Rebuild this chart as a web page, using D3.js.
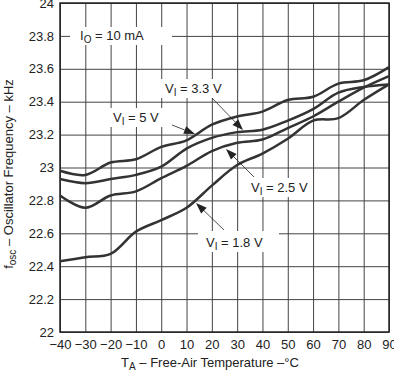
<!DOCTYPE html>
<html>
<head>
<meta charset="utf-8">
<script src="https://cdn.jsdelivr.net/npm/d3@7"></script>
<style>
  body { margin: 0; background: #fff; }
  text { font-family: Arial, "Liberation Sans", sans-serif; fill: #222; }
</style>
</head>
<body>
<div id="chart"></div>
<script>
// temperatures (°C) and oscillator frequency (kHz) per input voltage
var temps = [-40, -30, -20, -10, 0, 10, 20, 30, 40, 50, 60, 70, 80, 90];
var fV5  = [22.98, 22.955, 23.03, 23.05, 23.125, 23.165, 23.26, 23.31, 23.34, 23.41, 23.43, 23.51, 23.53, 23.61];
var fV33 = [22.93, 22.905, 22.93, 22.955, 23.005, 23.115, 23.18, 23.215, 23.23, 23.285, 23.355, 23.455, 23.49, 23.505];
var fV25 = [22.83, 22.755, 22.83, 22.855, 22.935, 23.01, 23.10, 23.15, 23.17, 23.24, 23.31, 23.40, 23.485, 23.555];
var fV18 = [22.43, 22.455, 22.475, 22.61, 22.68, 22.755, 22.89, 23.015, 23.085, 23.175, 23.285, 23.30, 23.41, 23.505];

var xTicks = [-40, -30, -20, -10, 0, 10, 20, 30, 40, 50, 60, 70, 80, 90];
var yTicks = [22, 22.2, 22.4, 22.6, 22.8, 23, 23.2, 23.4, 23.6, 23.8, 24];

function main(){
    var W = 394, H = 372;
    var left = 60, right = 389, top = 3, bottom = 332;

    var svg = d3.select("#chart").append("svg")
        .attr("width", W)
        .attr("height", H);

    var x = d3.scaleLinear().domain([-40, 90]).range([left, right]);
    var y = d3.scaleLinear().domain([22, 24]).range([bottom, top]);

    // grid
    svg.append("g")
        .attr("transform", "translate(0," + bottom + ")")
        .call(d3.axisBottom(x).tickValues(xTicks).tickSize(-(bottom - top)).tickFormat(""))
        .call(g => g.select(".domain").remove())
        .selectAll("line").attr("stroke", "#444").attr("stroke-width", 1);
    svg.append("g")
        .attr("transform", "translate(" + left + ",0)")
        .call(d3.axisLeft(y).tickValues(yTicks).tickSize(-(right - left)).tickFormat(""))
        .call(g => g.select(".domain").remove())
        .selectAll("line").attr("stroke", "#444").attr("stroke-width", 1);

    // white boxes behind the labels
    var boxes = [
        [70, 27, 102, 18],
        [106, 108, 60, 19],
        [158, 79, 62, 19],
        [244, 178, 66, 19],
        [198, 231, 81, 21]
    ];
    svg.selectAll(".box").data(boxes).enter().append("rect")
        .attr("x", d => d[0]).attr("y", d => d[1])
        .attr("width", d => d[2]).attr("height", d => d[3])
        .attr("fill", "#fff");

    // frame
    svg.append("rect")
        .attr("x", left).attr("y", top)
        .attr("width", right - left).attr("height", bottom - top)
        .attr("fill", "none").attr("stroke", "#222").attr("stroke-width", 1.5);

    // curves
    var line = d3.line()
        .x((d, i) => x(temps[i]))
        .y(d => y(d))
        .curve(d3.curveCatmullRom.alpha(0.5));

    [fV5, fV33, fV25, fV18].forEach(function(s){
        svg.append("path")
            .attr("d", line(s))
            .attr("fill", "none")
            .attr("stroke", "#333")
            .attr("stroke-width", 2.5);
    });

    // tick labels
    var fmt = d => (d < 0 ? "\u2212" + Math.abs(d) : "" + d);
    svg.append("g")
        .attr("transform", "translate(0," + bottom + ")")
        .call(d3.axisBottom(x).tickValues(xTicks).tickSize(0).tickPadding(8).tickFormat(fmt))
        .call(g => g.select(".domain").remove())
        .selectAll("text").attr("font-size", "13px").attr("fill", "#222");
    svg.append("g")
        .attr("transform", "translate(" + left + ",0)")
        .call(d3.axisLeft(y).tickValues(yTicks).tickSize(0).tickPadding(6).tickFormat(d => "" + d))
        .call(g => g.select(".domain").remove())
        .selectAll("text").attr("font-size", "13px").attr("fill", "#222");
    svg.selectAll(".tick text").attr("font-family", "Arial, 'Liberation Sans', sans-serif");

    // labels with subscripts
    function label(px, py, main, sub, rest){
        var t = svg.append("text")
            .attr("x", px).attr("y", py)
            .attr("font-size", "13px");
        t.append("tspan").text(main);
        t.append("tspan").attr("font-size", "10px").attr("dy", 3).text(sub);
        t.append("tspan").attr("dy", -3).text(rest);
        return t;
    }
    label(80, 40, "I", "O", " = 10 mA");
    label(113, 121.5, "V", "I", " = 5 V");
    label(165, 92.5, "V", "I", " = 3.3 V");
    label(251, 191.5, "V", "I", " = 2.5 V");
    label(206, 246.5, "V", "I", " = 1.8 V");

    // arrows
    var arrows = [
        [172, 125, 195, 134],
        [212, 98, 243, 130],
        [254, 177, 226, 149],
        [224, 230, 196, 203]
    ];
    arrows.forEach(function(a){
        var dx = a[2] - a[0], dy = a[3] - a[1];
        var len = Math.sqrt(dx * dx + dy * dy);
        var ux = dx / len, uy = dy / len;
        var hl = 11, hw = 4;
        var bx = a[2] - ux * hl, by = a[3] - uy * hl;
        svg.append("line")
            .attr("x1", a[0]).attr("y1", a[1]).attr("x2", bx).attr("y2", by)
            .attr("stroke", "#222").attr("stroke-width", 0.8);
        svg.append("path")
            .attr("d", "M" + a[2] + "," + a[3] +
                "L" + (bx - uy * hw) + "," + (by + ux * hw) +
                "L" + (bx + uy * hw) + "," + (by - ux * hw) + "Z")
            .attr("fill", "#222");
    });

    // axis titles
    var xt = svg.append("text")
        .attr("x", 210).attr("y", 367)
        .attr("font-size", "13px")
        .attr("text-anchor", "middle");
    xt.append("tspan").text("T");
    xt.append("tspan").attr("font-size", "10px").attr("dy", 3).text("A");
    xt.append("tspan").attr("dy", -3).text(" \u2013 Free-Air Temperature \u2013\u00b0C");

    var yt = svg.append("text")
        .attr("transform", "translate(13,174) rotate(-90)")
        .attr("font-size", "13px")
        .attr("text-anchor", "middle");
    yt.append("tspan").text("f");
    yt.append("tspan").attr("font-size", "10px").attr("dy", 3).text("osc");
    yt.append("tspan").attr("dy", -3).text(" \u2013 Oscillator Frequency \u2013 kHz");
}
main();
</script>
</body>
</html>
